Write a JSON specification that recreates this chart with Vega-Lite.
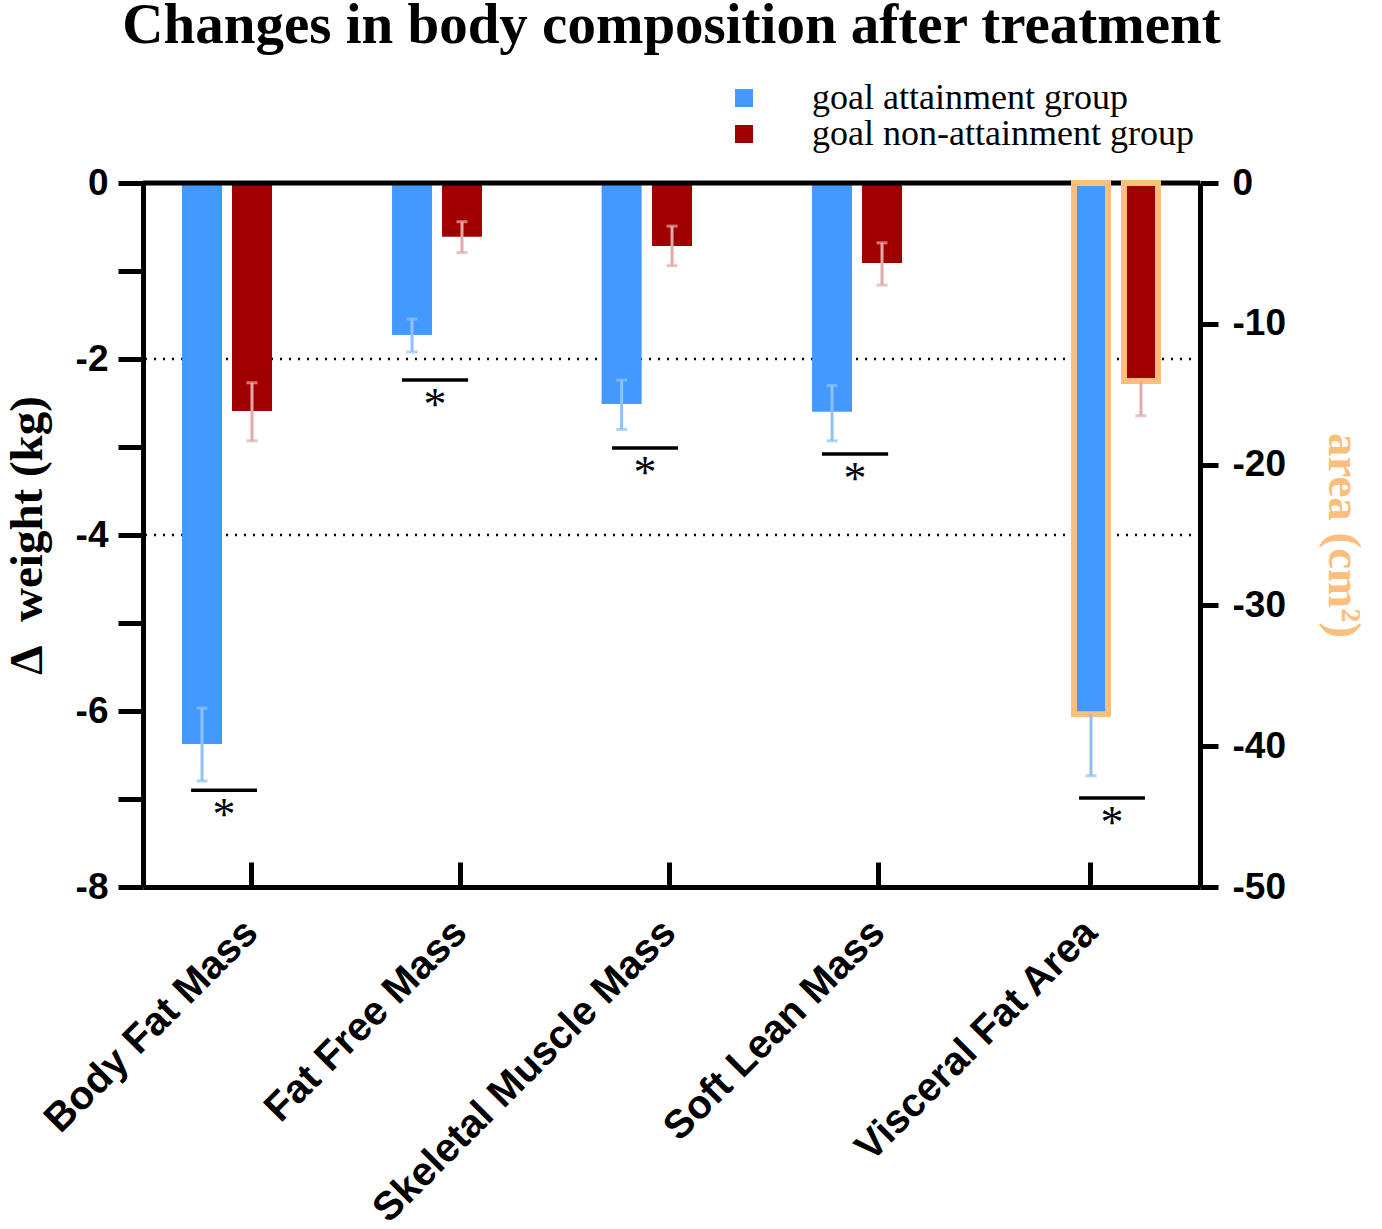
{
  "$schema": "https://vega.github.io/schema/vega-lite/v6.json",
  "width": 1057,
  "height": 704,
  "autosize": {"type": "none"},
  "padding": {"left": 143, "top": 183, "right": 182, "bottom": 342},
  "title": {
    "text": "Changes in body composition after treatment",
    "font": "Liberation Serif",
    "fontSize": 57,
    "fontWeight": "bold",
    "color": "black",
    "anchor": "middle",
    "baseline": "alphabetic",
    "offset": 20,
    "dy": 40
  },
  "datasets": {
    "kg": [
      {"measure": "Body Fat Mass", "group": "goal attainment group", "pos": 0.881, "value": -6.375, "hi": -5.966, "lo": -6.795},
      {"measure": "Body Fat Mass", "group": "goal non-attainment group", "pos": 1.119, "value": -2.59, "hi": -2.27, "lo": -2.93},
      {"measure": "Fat Free Mass", "group": "goal attainment group", "pos": 1.881, "value": -1.727, "hi": -1.545, "lo": -1.92},
      {"measure": "Fat Free Mass", "group": "goal non-attainment group", "pos": 2.119, "value": -0.61, "hi": -0.44, "lo": -0.79},
      {"measure": "Skeletal Muscle Mass", "group": "goal attainment group", "pos": 2.879, "value": -2.51, "hi": -2.24, "lo": -2.8},
      {"measure": "Skeletal Muscle Mass", "group": "goal non-attainment group", "pos": 3.119, "value": -0.716, "hi": -0.49, "lo": -0.94},
      {"measure": "Soft Lean Mass", "group": "goal attainment group", "pos": 3.881, "value": -2.6, "hi": -2.3, "lo": -2.93},
      {"measure": "Soft Lean Mass", "group": "goal non-attainment group", "pos": 4.119, "value": -0.91, "hi": -0.68, "lo": -1.16}
    ],
    "vfa": [
      {"measure": "Visceral Fat Area", "group": "goal attainment group", "pos": 5.114, "value": -37.73, "lo": -42.1},
      {"measure": "Visceral Fat Area", "group": "goal non-attainment group", "pos": 5.352, "value": -14.06, "lo": -16.53}
    ],
    "sigKg": [
      {"measure": "Body Fat Mass", "x1": 0.829, "x2": 1.143, "xm": 0.986, "y": -6.9, "mark": "*"},
      {"measure": "Fat Free Mass", "x1": 1.833, "x2": 2.148, "xm": 1.99, "y": -2.24, "mark": "*"},
      {"measure": "Skeletal Muscle Mass", "x1": 2.833, "x2": 3.148, "xm": 2.99, "y": -3.01, "mark": "*"},
      {"measure": "Soft Lean Mass", "x1": 3.833, "x2": 4.148, "xm": 3.99, "y": -3.08, "mark": "*"}
    ],
    "sigVfa": [
      {"measure": "Visceral Fat Area", "x1": 5.057, "x2": 5.371, "xm": 5.214, "y": -43.68, "mark": "*"}
    ],
    "grid": [{"y": -2}, {"y": -4}]
  },
  "layer": [
    {
      "layer": [
        {
          "data": {"name": "grid"},
          "mark": {"type": "rule", "strokeDash": [2, 7], "strokeWidth": 2.5, "color": "black"},
          "encoding": {
            "y": {
              "field": "y",
              "type": "quantitative",
              "scale": {"domain": [-8, 0], "nice": false, "zero": false},
              "axis": {
                "orient": "left",
                "values": [-8, -7, -6, -5, -4, -3, -2, -1, 0],
                "labelExpr": "datum.value % 2 == 0 ? '' + datum.value : ''",
                "labelOverlap": false,
                "tickSize": 25,
                "labelPadding": 10,
                "title": "Δ\u00a0\u00a0weight (kg)",
                "titleFontSize": 47,
                "titlePadding": 24
              }
            }
          }
        },
        {
          "data": {"name": "kg"},
          "mark": {"type": "bar", "width": 40},
          "encoding": {
            "x": {
              "field": "pos",
              "type": "quantitative",
              "scale": {"domain": [0.6, 5.633], "nice": false, "zero": false, "padding": 0},
              "axis": {
                "values": [1.114, 2.11, 3.105, 4.1, 5.11],
                "labelExpr": "datum.value < 1.5 ? 'Body Fat Mass' : datum.value < 2.5 ? 'Fat Free Mass' : datum.value < 3.5 ? 'Skeletal Muscle Mass' : datum.value < 4.5 ? 'Soft Lean Mass' : 'Visceral Fat Area'",
                "labelAngle": -45,
                "labelAlign": "right",
                "labelBaseline": "middle",
                "labelFontSize": 40,
                "labelOverlap": false,
                "labelFlush": false,
                "tickSize": -25,
                "labelPadding": 64,
                "title": null
              }
            },
            "y": {"field": "value", "type": "quantitative", "stack": null, "scale": {"domain": [-8, 0], "nice": false, "zero": false}},
            "y2": {"datum": 0},
            "color": {
              "field": "group",
              "type": "nominal",
              "scale": {"domain": ["goal attainment group", "goal non-attainment group"], "range": ["#4499FF", "#A00000"]},
              "legend": {
                "orient": "none",
                "legendX": 583,
                "legendY": -103,
                "title": null,
                "symbolType": "square",
                "symbolSize": 324,
                "symbolStrokeWidth": 0,
                "symbolOpacity": 1,
                "labelFont": "Liberation Serif",
                "labelFontSize": 36,
                "labelColor": "black",
                "labelOffset": 50,
                "labelLimit": 800,
                "rowPadding": 0,
                "padding": 0
              }
            }
          }
        },
        {
          "data": {"name": "kg"},
          "mark": {"type": "rule", "strokeWidth": 3},
          "encoding": {
            "x": {"field": "pos", "type": "quantitative", "scale": {"domain": [0.6, 5.633], "nice": false, "zero": false, "padding": 0}},
            "y": {"field": "hi", "type": "quantitative", "scale": {"domain": [-8, 0], "nice": false, "zero": false}},
            "y2": {"field": "lo"},
            "stroke": {
              "field": "group",
              "type": "nominal",
              "scale": {"domain": ["goal attainment group", "goal non-attainment group"], "range": ["#8EC1F8", "#E2AAAA"]},
              "legend": null
            }
          }
        },
        {
          "data": {"name": "kg"},
          "mark": {"type": "tick", "orient": "horizontal", "size": 11, "thickness": 3},
          "encoding": {
            "x": {"field": "pos", "type": "quantitative", "scale": {"domain": [0.6, 5.633], "nice": false, "zero": false, "padding": 0}},
            "y": {"field": "hi", "type": "quantitative", "scale": {"domain": [-8, 0], "nice": false, "zero": false}},
            "fill": {
              "field": "group",
              "type": "nominal",
              "scale": {"domain": ["goal attainment group", "goal non-attainment group"], "range": ["#8EC1F8", "#E2AAAA"]},
              "legend": null
            }
          }
        },
        {
          "data": {"name": "kg"},
          "mark": {"type": "tick", "orient": "horizontal", "size": 11, "thickness": 3},
          "encoding": {
            "x": {"field": "pos", "type": "quantitative", "scale": {"domain": [0.6, 5.633], "nice": false, "zero": false, "padding": 0}},
            "y": {"field": "lo", "type": "quantitative", "scale": {"domain": [-8, 0], "nice": false, "zero": false}},
            "fill": {
              "field": "group",
              "type": "nominal",
              "scale": {"domain": ["goal attainment group", "goal non-attainment group"], "range": ["#8EC1F8", "#E2AAAA"]},
              "legend": null
            }
          }
        },
        {
          "data": {"name": "sigKg"},
          "mark": {"type": "rule", "strokeWidth": 3.5, "color": "black"},
          "encoding": {
            "x": {"field": "x1", "type": "quantitative", "scale": {"domain": [0.6, 5.633], "nice": false, "zero": false, "padding": 0}},
            "x2": {"field": "x2"},
            "y": {"field": "y", "type": "quantitative", "scale": {"domain": [-8, 0], "nice": false, "zero": false}}
          }
        },
        {
          "data": {"name": "sigKg"},
          "mark": {"type": "text", "font": "Liberation Serif", "fontSize": 46, "color": "black", "baseline": "alphabetic", "align": "center", "dy": 40},
          "encoding": {
            "x": {"field": "xm", "type": "quantitative", "scale": {"domain": [0.6, 5.633], "nice": false, "zero": false, "padding": 0}},
            "y": {"field": "y", "type": "quantitative", "scale": {"domain": [-8, 0], "nice": false, "zero": false}},
            "text": {"field": "mark"}
          }
        },
        {
          "data": {"values": [{"y": 0}]},
          "mark": {"type": "rule", "strokeWidth": 5, "color": "black"},
          "encoding": {
            "y": {"field": "y", "type": "quantitative", "scale": {"domain": [-8, 0], "nice": false, "zero": false}}
          }
        }
      ]
    },
    {
      "layer": [
        {
          "data": {"name": "vfa"},
          "mark": {"type": "bar", "width": 34, "stroke": "#FABE7D", "strokeWidth": 6},
          "encoding": {
            "x": {"field": "pos", "type": "quantitative", "scale": {"domain": [0.6, 5.633], "nice": false, "zero": false, "padding": 0}},
            "y": {
              "field": "value",
              "type": "quantitative",
              "stack": null,
              "scale": {"domain": [-50, 0], "nice": false, "zero": false},
              "axis": {
                "orient": "right",
                "values": [-50, -40, -30, -20, -10, 0],
                "labelExpr": "'' + datum.value",
                "tickSize": 18,
                "labelPadding": 14,
                "title": "area (cm²)",
                "titleColor": "#FABE7D",
                "titleFontSize": 47,
                "titleAngle": 90,
                "titlePadding": 33
              }
            },
            "y2": {"datum": 0},
            "color": {
              "field": "group",
              "type": "nominal",
              "scale": {"domain": ["goal attainment group", "goal non-attainment group"], "range": ["#4499FF", "#A00000"]}
            }
          }
        },
        {
          "data": {"name": "vfa"},
          "mark": {"type": "rule", "strokeWidth": 3},
          "encoding": {
            "x": {"field": "pos", "type": "quantitative", "scale": {"domain": [0.6, 5.633], "nice": false, "zero": false, "padding": 0}},
            "y": {"field": "value", "type": "quantitative", "scale": {"domain": [-50, 0], "nice": false, "zero": false}},
            "y2": {"field": "lo"},
            "stroke": {
              "field": "group",
              "type": "nominal",
              "scale": {"domain": ["goal attainment group", "goal non-attainment group"], "range": ["#8EC1F8", "#E2AAAA"]},
              "legend": null
            }
          }
        },
        {
          "data": {"name": "vfa"},
          "mark": {"type": "tick", "orient": "horizontal", "size": 11, "thickness": 3},
          "encoding": {
            "x": {"field": "pos", "type": "quantitative", "scale": {"domain": [0.6, 5.633], "nice": false, "zero": false, "padding": 0}},
            "y": {"field": "lo", "type": "quantitative", "scale": {"domain": [-50, 0], "nice": false, "zero": false}},
            "fill": {
              "field": "group",
              "type": "nominal",
              "scale": {"domain": ["goal attainment group", "goal non-attainment group"], "range": ["#8EC1F8", "#E2AAAA"]},
              "legend": null
            }
          }
        },
        {
          "data": {"name": "sigVfa"},
          "mark": {"type": "rule", "strokeWidth": 3.5, "color": "black"},
          "encoding": {
            "x": {"field": "x1", "type": "quantitative", "scale": {"domain": [0.6, 5.633], "nice": false, "zero": false, "padding": 0}},
            "x2": {"field": "x2"},
            "y": {"field": "y", "type": "quantitative", "scale": {"domain": [-50, 0], "nice": false, "zero": false}}
          }
        },
        {
          "data": {"name": "sigVfa"},
          "mark": {"type": "text", "font": "Liberation Serif", "fontSize": 46, "color": "black", "baseline": "alphabetic", "align": "center", "dy": 40},
          "encoding": {
            "x": {"field": "xm", "type": "quantitative", "scale": {"domain": [0.6, 5.633], "nice": false, "zero": false, "padding": 0}},
            "y": {"field": "y", "type": "quantitative", "scale": {"domain": [-50, 0], "nice": false, "zero": false}},
            "text": {"field": "mark"}
          }
        }
      ]
    }
  ],
  "resolve": {"scale": {"y": "independent"}},
  "config": {
    "view": {"stroke": null},
    "axis": {
      "domainColor": "black",
      "domainWidth": 5,
      "tickColor": "black",
      "tickWidth": 5,
      "labelColor": "black",
      "labelFont": "Liberation Sans",
      "labelFontWeight": "bold",
      "labelFontSize": 37,
      "labelLimit": 800,
      "grid": false,
      "titleColor": "black",
      "titleFont": "Liberation Serif",
      "titleFontWeight": "bold",
      "titleFontSize": 46,
      "zindex": 1
    }
  }
}
